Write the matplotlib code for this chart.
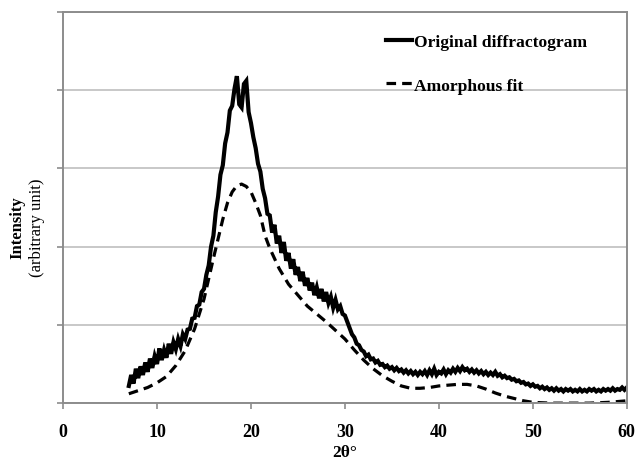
import numpy as np
import matplotlib

matplotlib.use("Agg")
from matplotlib import pyplot as plt

# Original diffractogram, sampled every 0.25 deg from 7 to 60 deg (2theta)
scan_start = 7.0
scan_step = 0.25
original = [
    0.22, 0.36, 0.25, 0.44, 0.32, 0.47, 0.36, 0.52,
    0.40, 0.57, 0.45, 0.60, 0.50, 0.70, 0.55, 0.68,
    0.58, 0.76, 0.63, 0.78, 0.69, 0.82, 0.73, 0.88,
    0.82, 0.94, 0.95, 1.08, 1.09, 1.24, 1.26, 1.42,
    1.46, 1.64, 1.76, 2.00, 2.14, 2.44, 2.64, 2.92,
    3.04, 3.32, 3.46, 3.74, 3.80, 4.02, 4.18, 3.82,
    3.78, 4.08, 4.12, 3.72, 3.58, 3.40, 3.26, 3.06,
    2.96, 2.74, 2.62, 2.42, 2.40, 2.18, 2.28, 2.04,
    2.14, 1.92, 2.06, 1.82, 1.92, 1.72, 1.84, 1.64,
    1.74, 1.56, 1.68, 1.50, 1.60, 1.44, 1.54, 1.38,
    1.48, 1.34, 1.46, 1.30, 1.42, 1.28, 1.36, 1.22,
    1.32, 1.20, 1.24, 1.14, 1.12, 1.04, 0.96, 0.88,
    0.84, 0.76, 0.74, 0.68, 0.66, 0.60, 0.62, 0.56,
    0.57, 0.52, 0.54, 0.49, 0.50, 0.46, 0.48, 0.44,
    0.46, 0.42, 0.45, 0.41, 0.43, 0.39, 0.42, 0.38,
    0.41, 0.37, 0.40, 0.36, 0.40, 0.37, 0.41, 0.36,
    0.42, 0.37, 0.44, 0.36, 0.40, 0.38, 0.43, 0.37,
    0.42, 0.39, 0.44, 0.40, 0.45, 0.41, 0.46, 0.42,
    0.44, 0.40, 0.43, 0.39, 0.42, 0.38, 0.41, 0.37,
    0.40, 0.36, 0.39, 0.36, 0.40, 0.35, 0.37, 0.33,
    0.35, 0.32, 0.33, 0.30, 0.31, 0.28, 0.29, 0.26,
    0.27, 0.24, 0.25, 0.22, 0.24, 0.21, 0.22, 0.19,
    0.21, 0.18, 0.20, 0.17, 0.19, 0.16, 0.19, 0.16,
    0.18, 0.15, 0.18, 0.16, 0.18, 0.15, 0.17, 0.15,
    0.18, 0.15, 0.17, 0.15, 0.18, 0.16, 0.18, 0.15,
    0.17, 0.15, 0.18, 0.16, 0.18, 0.16, 0.19, 0.16,
    0.18, 0.17, 0.20, 0.17, 0.20,
]

# Amorphous fit
fit_theta = [7, 8, 9, 10, 11, 12, 13, 14, 15, 16, 16.5, 17, 17.5, 18, 18.5,
             19, 19.5, 20, 20.5, 21, 21.5, 22, 23, 24, 25, 26, 27, 28, 29,
             30, 31, 32, 33, 34, 35, 36, 37, 38, 39, 40, 41, 42, 43, 44, 45,
             46, 47, 48, 49, 50, 52, 54, 56, 58, 60]
fit_int = [0.12, 0.16, 0.20, 0.26, 0.34, 0.48, 0.67, 0.95, 1.33, 1.85, 2.10,
           2.35, 2.56, 2.70, 2.78, 2.80, 2.77, 2.70, 2.56, 2.40, 2.14, 1.98,
           1.72, 1.52, 1.38, 1.24, 1.14, 1.04, 0.93, 0.82, 0.68, 0.55, 0.44,
           0.35, 0.28, 0.22, 0.19, 0.19, 0.20, 0.22, 0.23, 0.24, 0.24, 0.22,
           0.18, 0.13, 0.09, 0.06, 0.03, 0.01, 0.00, 0.00, 0.00, 0.01, 0.03]

x_ticks = [0, 10, 20, 30, 40, 50, 60]

plt.rcParams["font.family"] = ["Liberation Serif", "DejaVu Serif"]

theta = scan_start + scan_step * np.arange(len(original))

fig = plt.figure(figsize=(6.37, 4.64), dpi=100)
ax = fig.add_axes([0.099, 0.129, 0.885, 0.843])

ax.plot(theta, original, color="black", lw=3.0, solid_joinstyle="miter",
        label="Original diffractogram")
ax.plot(fit_theta, fit_int, color="black", lw=2.3, ls=(0, (3.0, 1.9)),
        label="Amorphous fit")

ax.set_xlim(0, 60)
ax.set_ylim(0, 5)
ax.set_xticks(x_ticks)
ax.set_yticks([0, 1, 2, 3, 4, 5])
ax.set_yticklabels([])
ax.grid(axis="y", color="#bfbfbf", lw=1.2)
ax.set_axisbelow(True)
for sp in ax.spines.values():
    sp.set_color("#8c8c8c")
    sp.set_linewidth(1.4)
ax.tick_params(axis="both", direction="out", color="#8c8c8c", length=4, width=1.2)
ax.tick_params(axis="x", labelsize=13, pad=10)
for lbl in ax.get_xticklabels():
    lbl.set_fontweight("bold")

ax.set_xlabel("2θ°", fontsize=12.5, fontweight="bold", labelpad=3)
fig.text(0.028, 0.509, "Intensity", rotation=90, ha="center", va="center",
         fontsize=12, fontweight="bold")
fig.text(0.058, 0.509, "(arbitrary unit)", rotation=90, ha="center", va="center",
         fontsize=12)

ax.legend(loc="upper left", bbox_to_anchor=(0.572, 0.944), frameon=False,
          prop={"weight": "bold", "size": 12.6}, handlelength=1.5,
          handletextpad=0.1, labelspacing=1.55, borderpad=0, borderaxespad=0)

plt.savefig("out.png", dpi=100)
plt.close(fig)
